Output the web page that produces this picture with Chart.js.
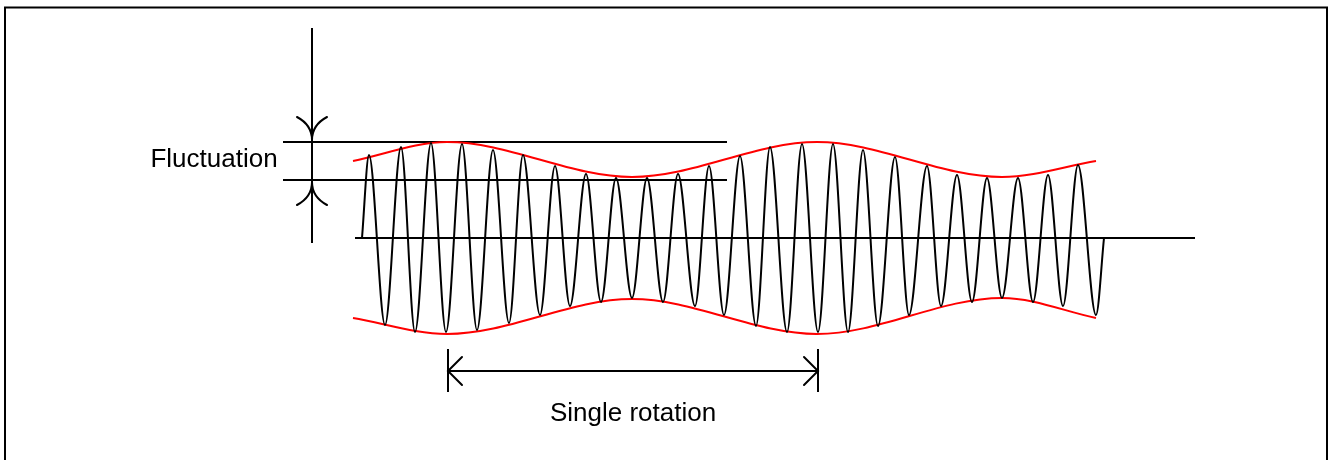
<!DOCTYPE html>
<html>
<head>
<meta charset="utf-8">
<script src="https://cdn.jsdelivr.net/npm/chart.js@4.4.1/dist/chart.umd.min.js"></script>
<style>
  html, body { margin: 0; padding: 0; background: #fff; }
  canvas { display: block; }
</style>
</head>
<body>
<canvas id="myChart" width="1328" height="460"></canvas>
<script>
// wave extremes (time units, amplitude about the centre line)
const waveStart = [362, 0];
const waveEnd = [1104, 0];
const peakX = [369, 401, 431, 462, 493, 523, 555, 586, 616, 647, 678, 709, 740, 770, 802, 833, 863, 895, 927, 957, 987, 1018, 1048, 1078];
const peakAmp = [83, 91, 95, 94, 88, 83, 72, 64, 60, 60, 64, 72, 82, 91, 94, 94, 88, 81, 72, 63, 60, 60, 63, 73];
const troughX = [385, 415, 446, 477, 509, 540, 570, 601, 632, 663, 695, 724, 756, 787, 818, 848, 878, 909, 941, 972, 1002, 1033, 1063, 1096];
const troughAmp = [-87, -94, -94, -92, -85, -77, -68, -64, -60, -64, -68, -77, -88, -94, -94, -94, -88, -77, -68, -64, -60, -64, -68, -77];

// red envelope
const envX = [353, 447, 632, 817, 1002, 1096];
const envUpper = [77, 96, 61, 96, 61, 77];
const envLower = [-80, -96, -61, -96, -60, -80];

// guide lines
const fluctTop = 96;
const fluctBottom = 58;
const fluctLineX = [283, 727];
const fluctArrowX = 312;
const fluctArrowY = [210, -5];
const baselineX = [355, 1195];
const rotationX = [448, 818];
const rotationY = -133;
const rotationTickY = [-111, -154];

const labels = [
  { text: 'Fluctuation', x: 214, y: 78 },
  { text: 'Single rotation', x: 633, y: -176 },
];

const wave = [{ x: waveStart[0], y: waveStart[1] }];
peakX.forEach((px, i) => {
  wave.push({ x: px, y: peakAmp[i] });
  wave.push({ x: troughX[i], y: troughAmp[i] });
});
wave.push({ x: waveEnd[0], y: waveEnd[1] });

function seg(x1, y1, x2, y2) {
  return {
    data: [{ x: x1, y: y1 }, { x: x2, y: y2 }],
    borderColor: 'black',
    borderWidth: 2,
    pointRadius: 0,
    tension: 0,
  };
}

const arrowPlugin = {
  id: 'arrows',
  afterDatasetsDraw(chart) {
    const c = chart.ctx;
    const sx = chart.scales.x, sy = chart.scales.y;
    const X = v => sx.getPixelForValue(v);
    const Y = v => sy.getPixelForValue(v);
    c.save();
    // frame
    c.strokeStyle = 'black';
    c.lineWidth = 2;
    c.strokeRect(5, 7.5, 1322, 470);

    c.lineWidth = 2;
    c.lineCap = 'round';
    // curved arrow heads on the fluctuation line
    const ax = X(fluctArrowX);
    const t1 = Y(fluctTop), t2 = Y(fluctBottom);
    c.beginPath();
    c.moveTo(ax - 15, t1 - 25); c.quadraticCurveTo(ax, t1 - 17, ax, t1 - 2);
    c.moveTo(ax + 15, t1 - 25); c.quadraticCurveTo(ax, t1 - 17, ax, t1 - 2);
    c.moveTo(ax - 15, t2 + 25); c.quadraticCurveTo(ax, t2 + 17, ax, t2 + 2);
    c.moveTo(ax + 15, t2 + 25); c.quadraticCurveTo(ax, t2 + 17, ax, t2 + 2);
    c.stroke();

    // straight arrow heads on the rotation line
    const ry = Y(rotationY);
    const l = X(rotationX[0]), r = X(rotationX[1]);
    c.beginPath();
    c.moveTo(l + 14, ry - 14); c.lineTo(l, ry); c.lineTo(l + 14, ry + 14);
    c.moveTo(r - 14, ry - 14); c.lineTo(r, ry); c.lineTo(r - 14, ry + 14);
    c.stroke();

    c.fillStyle = 'black';
    c.font = '26px "Liberation Sans", Arial, sans-serif';
    c.textAlign = 'center';
    c.textBaseline = 'middle';
    labels.forEach(lb => c.fillText(lb.text, X(lb.x), Y(lb.y)));
    c.restore();
  }
};

const ctx = document.getElementById('myChart');

new Chart(ctx, {
  type: 'line',
  data: {
    datasets: [
      {
        data: wave,
        borderColor: 'black',
        borderWidth: 2,
        pointRadius: 0,
        cubicInterpolationMode: 'monotone',
      },
      {
        data: envX.map((x, i) => ({ x, y: envUpper[i] })),
        borderColor: '#ff0000',
        borderWidth: 2,
        pointRadius: 0,
        cubicInterpolationMode: 'monotone',
      },
      {
        data: envX.map((x, i) => ({ x, y: envLower[i] })),
        borderColor: '#ff0000',
        borderWidth: 2,
        pointRadius: 0,
        cubicInterpolationMode: 'monotone',
      },
      seg(fluctLineX[0], fluctTop, fluctLineX[1], fluctTop),
      seg(fluctLineX[0], fluctBottom, fluctLineX[1], fluctBottom),
      seg(fluctArrowX, fluctArrowY[0], fluctArrowX, fluctArrowY[1]),
      seg(baselineX[0], 0, baselineX[1], 0),
      seg(rotationX[0], rotationY, rotationX[1], rotationY),
      seg(rotationX[0], rotationTickY[0], rotationX[0], rotationTickY[1]),
      seg(rotationX[1], rotationTickY[0], rotationX[1], rotationTickY[1]),
    ],
  },
  options: {
    responsive: false,
    animation: false,
    layout: { padding: 0 },
    plugins: {
      legend: { display: false },
      tooltip: { enabled: false },
    },
    scales: {
      x: { type: 'linear', min: 0, max: 1328, display: false },
      y: { type: 'linear', min: -222, max: 238, display: false },
    },
  },
  plugins: [arrowPlugin],
});
</script>
</body>
</html>
